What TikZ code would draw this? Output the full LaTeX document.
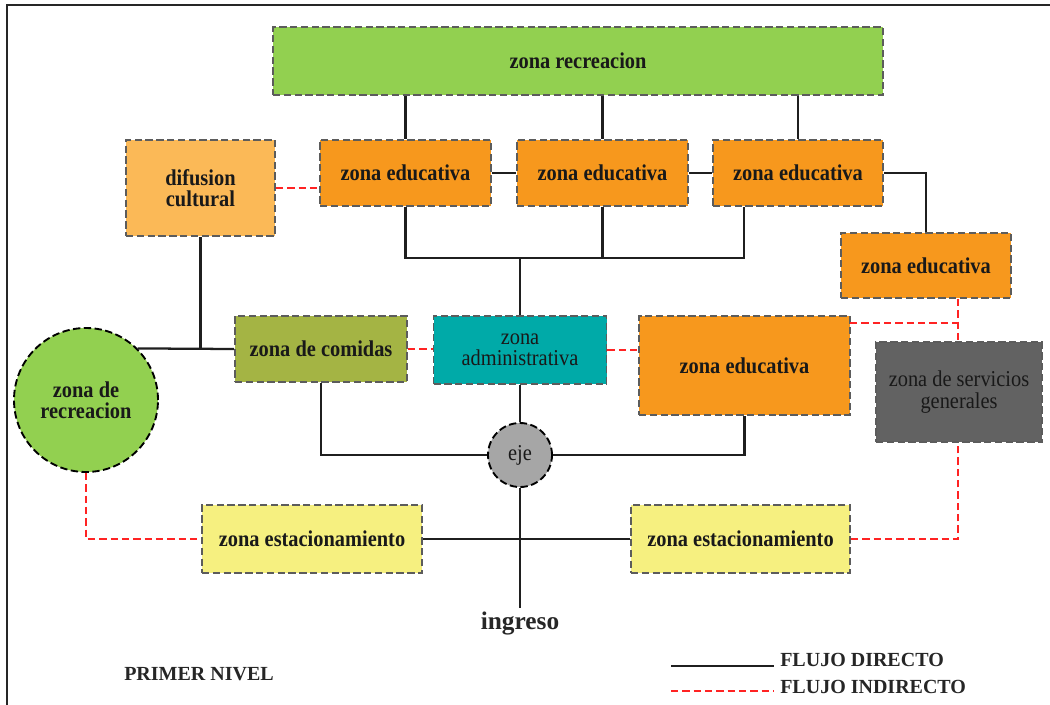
\documentclass[tikz,border=0pt]{standalone}
\usepackage{fontspec}
\setmainfont{Liberation Serif}
\newfontfamily\boxfont{Liberation Serif}[FakeStretch=0.9]
\newdimen\px
\px=0.75pt
\begin{document}
\begin{tikzpicture}[x=0.75pt,y=-0.75pt,
  zbox/.style={draw=black!64, line width=1.4pt, dash pattern=on 5.5pt off 2.6pt, align=center, inner sep=2pt, font=\boxfont\fontsize{17}{16}\selectfont\bfseries, text=black!90},
  zcirc/.style={circle, draw=black, line width=1.4pt, dash pattern=on 5.5pt off 2.6pt, align=center, inner sep=0pt, font=\boxfont\fontsize{17}{16}\selectfont\bfseries, text=black!90},
  flow/.style={draw=black!88, line width=1.7pt},
  ind/.style={draw={rgb,255:red,255;green,35;blue,35}, line width=1.5pt, dash pattern=on 5.5pt off 3pt},
  lbl/.style={font=\fontsize{15}{17}\selectfont\bfseries, text=black!85, inner sep=0pt}
]
\useasboundingbox (0,0) rectangle (1050,704);
\fill[white] (0,0) rectangle (1050,704);
% frame
\draw[line width=1.3pt, black!85] (7,712) -- (7,5) -- (1058,5);

% nodes
\node[zbox, fill={rgb,255:red,146;green,208;blue,80}, minimum width=610\px, minimum height=68\px] (rec) at (578,61) {zona recreacion};
\node[zbox, fill={rgb,255:red,251;green,185;blue,87}, minimum width=149\px, minimum height=96\px] (dif) at (200.5,188) {difusion\\cultural};
\node[zbox, fill={rgb,255:red,247;green,152;blue,29}, minimum width=171\px, minimum height=66\px] (ze1) at (405.5,173) {zona educativa};
\node[zbox, fill={rgb,255:red,247;green,152;blue,29}, minimum width=171\px, minimum height=66\px] (ze2) at (602.5,173) {zona educativa};
\node[zbox, fill={rgb,255:red,247;green,152;blue,29}, minimum width=170\px, minimum height=66\px] (ze3) at (798,173) {zona educativa};
\node[zbox, fill={rgb,255:red,247;green,152;blue,29}, minimum width=170\px, minimum height=65\px] (ze4) at (926,265.5) {zona educativa};
\node[zbox, fill={rgb,255:red,164;green,180;blue,68}, minimum width=172\px, minimum height=66\px] (com) at (321,349) {zona de comidas};
\node[zbox, fill={rgb,255:red,0;green,170;blue,168}, minimum width=173\px, minimum height=68\px, font=\boxfont\fontsize{17}{16}\selectfont] (adm) at (520,350) {zona\\administrativa};
\node[zbox, fill={rgb,255:red,247;green,152;blue,29}, minimum width=211\px, minimum height=99\px] (ze5) at (744.5,365.5) {zona educativa};
\node[zbox, fill={rgb,255:red,98;green,98;blue,98}, minimum width=166\px, minimum height=100\px, font=\boxfont\fontsize{17}{16.5}\selectfont] (srv) at (959,392) {zona de servicios\\generales};
\node[zcirc, fill={rgb,255:red,146;green,208;blue,80}, minimum size=144\px] (rcirc) at (86,400) {zona de\\recreacion};
\node[zcirc, fill={rgb,255:red,166;green,166;blue,166}, minimum size=64\px, font=\boxfont\fontsize{17}{16}\selectfont] (eje) at (520,455) {eje};
\node[zbox, fill={rgb,255:red,246;green,240;blue,128}, minimum width=220\px, minimum height=68\px] (est1) at (312,539) {zona estacionamiento};
\node[zbox, fill={rgb,255:red,246;green,240;blue,128}, minimum width=219\px, minimum height=68\px] (est2) at (740.5,539) {zona estacionamiento};
\node[lbl, font=\fontsize{19}{20}\selectfont\bfseries, inner sep=2pt] (ing) at (520,623) {ingreso};
\node[lbl] (nivel) at (199,674) {PRIMER NIVEL};
\node[lbl, anchor=west] (lg1) at (780,660) {FLUJO DIRECTO};
\node[lbl, anchor=west] (lg2) at (780,687) {FLUJO INDIRECTO};

% coordinates
\coordinate (busA) at (744,258);
\coordinate (z5r) at (850,323);
\coordinate (jS) at (958,323);
\coordinate (l1a) at (671,666);
\coordinate (l1b) at (774,666);
\coordinate (l2a) at (671,691);
\coordinate (l2b) at (774,691);

% direct flows
\draw[flow] (rec.south -| ze1.north) -- (ze1.north);
\draw[flow] (rec.south -| ze2.north) -- (ze2.north);
\draw[flow] (rec.south -| ze3.north) -- (ze3.north);
\draw[flow] (ze1.east) -- (ze2.west);
\draw[flow] (ze2.east) -- (ze3.west);
\draw[flow] (ze3.east) -| (ze4.north);
\draw[flow] (ze1.south) |- (busA) -- (busA |- ze3.south);
\draw[flow] (ze2.south) -- (ze2.south |- busA);
\draw[flow] (adm.north) -- (adm.north |- busA);
\draw[flow] (dif.south) -- (dif.south |- com.west);
\draw[flow] (rcirc.45) -- (com.west);
\draw[flow] (adm.south) -- (eje.north);
\draw[flow] (com.south) |- (eje.west);
\draw[flow] (eje.east) -| (ze5.south);
\draw[flow] (eje.south) -- (ing.north);
\draw[flow] (est1.east) -- (est2.west);

% indirect flows
\draw[ind] (dif.east) -- (dif.east -| ze1.west);
\draw[ind] (com.east) -- (com.east -| adm.west);
\draw[ind] (adm.east) -- (adm.east -| ze5.west);
\draw[ind] (rcirc.south) |- (est1.west);
\draw[ind] (est2.east) -| (jS |- srv.south);
\draw[ind] (ze4.south -| jS) -- (jS |- srv.north);
\draw[ind] (z5r) -- (jS);

% legend
\draw[flow] (l1a) -- (l1b);
\draw[ind] (l2a) -- (l2b);
\end{tikzpicture}
\end{document}
